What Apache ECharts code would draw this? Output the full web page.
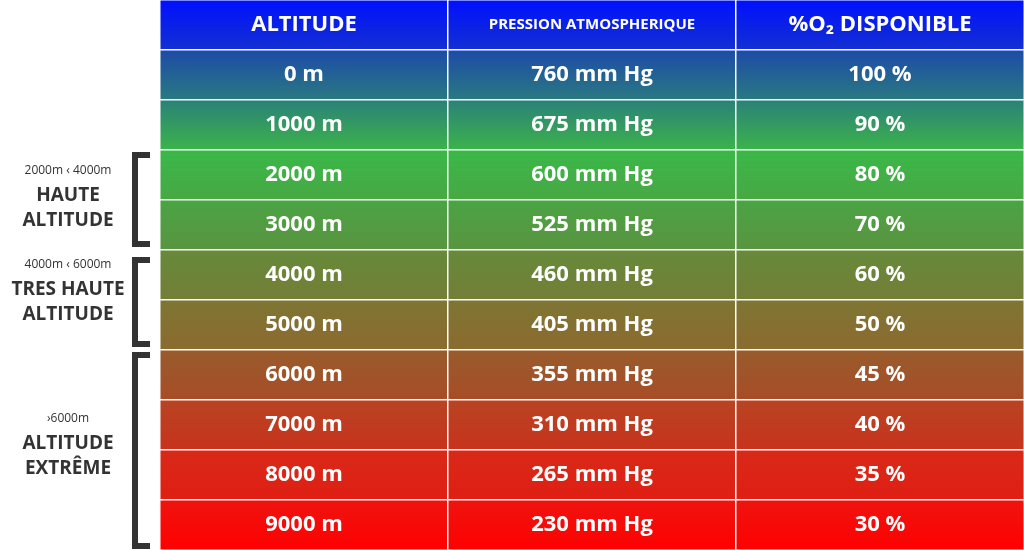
<!DOCTYPE html>
<html>
<head>
<meta charset="utf-8">
<script src="https://cdn.jsdelivr.net/npm/echarts@6/dist/echarts.min.js"></script>
<style>html,body{margin:0;padding:0;background:#fff}#chart{width:1024px;height:550px}</style>
</head>
<body>
<div id="chart"></div>
<script>
// table content
const headers = ['ALTITUDE', 'PRESSION ATMOSPHERIQUE', '%O₂ DISPONIBLE'];
const altitudes = ['0 m', '1000 m', '2000 m', '3000 m', '4000 m', '5000 m', '6000 m', '7000 m', '8000 m', '9000 m'];
const pressures = ['760 mm Hg', '675 mm Hg', '600 mm Hg', '525 mm Hg', '460 mm Hg', '405 mm Hg', '355 mm Hg', '310 mm Hg', '265 mm Hg', '230 mm Hg'];
const oxygen = ['100 %', '90 %', '80 %', '70 %', '60 %', '50 %', '45 %', '40 %', '35 %', '30 %'];
// row colours top -> bottom (header first)
const rowColors = [
  ['#0010ff', '#1430d0'], ['#1c4aa8', '#2a7a80'], ['#2a8078', '#3cb44a'],
  ['#3ab848', '#48a844'], ['#4aa444', '#5a9440'], ['#668a3a', '#747e36'],
  ['#7e7634', '#8c6a2e'], ['#985c2c', '#a84c26'], ['#b84424', '#c8321c'],
  ['#d82a18', '#e01e14'], ['#ee1410', '#ff0000']
];

const chart = echarts.init(document.getElementById('chart'));
const rows = ['head'].concat(altitudes);
const columns = [headers].concat(altitudes.map((a, i) => [a, pressures[i], oxygen[i]]));
const data = [];
columns.forEach((cells, r) => {
  cells.forEach((txt, c) => {
    const grad = new echarts.graphic.LinearGradient(0, 0, 0, 1, [
      { offset: 0, color: rowColors[r][0] }, { offset: 1, color: rowColors[r][1] }
    ]);
    data.push({
      value: [c, r, 1], name: txt,
      itemStyle: { color: grad },
      label: r === 0 && c === 1 ? { fontSize: 15 } : {}
    });
  });
});

const side = (y, small, big) => [
  { type: 'text', left: 'center', style: {} }
];

function bracket(y1, y2) {
  return {
    type: 'polyline',
    shape: { points: [[150, y1 + 3], [135, y1 + 3], [135, y2 - 3], [150, y2 - 3]] },
    style: { stroke: '#333', lineWidth: 6, fill: null }
  };
}
function sideText(y, small, big) {
  return [
    { type: 'text', x: 68, y: y, style: { text: small, fill: '#333', font: '12px "Open Sans"', align: 'center' } },
    { type: 'text', x: 68, y: y + 18, style: { text: big, fill: '#333', font: 'bold 19px "Open Sans"', align: 'center', lineHeight: 25 } }
  ];
}

chart.setOption({
  animation: false,
  grid: { left: 160, right: 0, top: 0, bottom: 0 },
  xAxis: { type: 'category', data: [0, 1, 2], show: false },
  yAxis: { type: 'category', data: rows, inverse: true, show: false },
  series: [{
    type: 'heatmap',
    data: data,
    itemStyle: { borderColor: '#fff', borderWidth: 1.5 },
    label: {
      show: true, color: '#fff', fontFamily: 'Open Sans', fontWeight: 'bold', fontSize: 22,
      formatter: p => p.name
    },
    emphasis: { disabled: true }
  }],
  graphic: [
    bracket(152, 247), bracket(257, 347), bracket(352, 549)
  ].concat(sideText(165, '2000m ‹ 4000m', 'HAUTE\nALTITUDE'))
   .concat(sideText(259, '4000m ‹ 6000m', 'TRES HAUTE\nALTITUDE'))
   .concat(sideText(413, '›6000m', 'ALTITUDE\nEXTRÊME'))
});
</script>
</body>
</html>
